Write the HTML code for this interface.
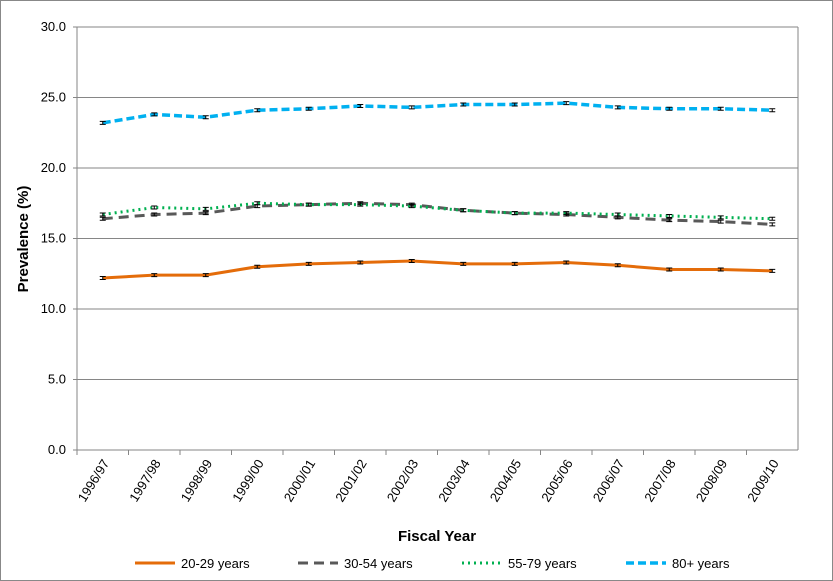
<!DOCTYPE html>
<html><head><meta charset="utf-8"><style>
body{margin:0;background:#fff;font-family:"Liberation Sans",Arial,sans-serif}
#wrap{position:relative;width:833px;height:581px;border:1px solid #888;box-sizing:border-box;overflow:hidden}
</style></head><body>
<div id="wrap">
<svg id="chart" width="833" height="581"></svg>
</div>
<script>
const categories=["1996/97","1997/98","1998/99","1999/00","2000/01","2001/02","2002/03","2003/04","2004/05","2005/06","2006/07","2007/08","2008/09","2009/10"];
const s2029=[12.2,12.4,12.4,13.0,13.2,13.3,13.4,13.2,13.2,13.3,13.1,12.8,12.8,12.7];
const s3054=[16.4,16.7,16.8,17.3,17.4,17.5,17.4,17.0,16.8,16.7,16.5,16.3,16.2,16.0];
const s5579=[16.7,17.2,17.1,17.5,17.4,17.4,17.3,17.0,16.8,16.8,16.7,16.6,16.5,16.4];
const s80=[23.2,23.8,23.6,24.1,24.2,24.4,24.3,24.5,24.5,24.6,24.3,24.2,24.2,24.1];
const yTicks=[0,5,10,15,20,25,30];
const seriesNames=["20-29 years","30-54 years","55-79 years","80+ years"];

const NS="http://www.w3.org/2000/svg";
const svg=document.getElementById('chart');
const L=76,R=797,T=26,B=449,yMax=30;
const step=(R-L)/categories.length;
const x=i=>L+step*(i+0.5);
const y=v=>B-(v/yMax)*(B-T);
function mk(tag,attrs,parent){const e=document.createElementNS(NS,tag);for(const k in attrs)e.setAttribute(k,attrs[k]);(parent||svg).appendChild(e);return e;}

yTicks.forEach(t=>{
  const g=mk('line',{x1:L-4,x2:R,y1:y(t),y2:y(t),stroke:'#868686','stroke-width':1});
  
  
  const tx=mk('text',{x:L-11,y:y(t)+4,'text-anchor':'end','font-size':13,fill:'#000'});
  tx.textContent=t.toFixed(1);
  
  
});
const ax=mk('line',{x1:L,x2:L,y1:T,y2:B,stroke:'#868686'});


const rb=mk('line',{x1:R,x2:R,y1:T,y2:B,stroke:'#868686'});


categories.forEach((c,i)=>{
  const tk=mk('line',{x1:L+step*i,x2:L+step*i,y1:B,y2:B+5,stroke:'#868686'});
  
  
  const tx=mk('text',{x:x(i)+7,y:B+13,'text-anchor':'end','font-size':13,transform:`rotate(-58 ${x(i)+7} ${B+13})`});
  tx.textContent=c;
  
  
});
const yt=mk('text',{x:27,y:238,'text-anchor':'middle','font-size':15,'font-weight':'bold',transform:'rotate(-90 27 238)'});
yt.textContent='Prevalence (%)';


const xt=mk('text',{x:436,y:540,'text-anchor':'middle','font-size':15,'font-weight':'bold'});
xt.textContent='Fiscal Year';



const styles=[
 {d:s2029,c:'#E46C0A',dash:'',w:3,n:'series-20-29'},
 {d:s3054,c:'#595959',dash:'10,6',w:3,n:'series-30-54'},
 {d:s5579,c:'#00B050',dash:'2,4',w:3,n:'series-55-79'},
 {d:s80,c:'#00B0F0',dash:'8,4',w:3.5,n:'series-80-plus'}];
styles.forEach(s=>{
  const p=mk('polyline',{points:s.d.map((v,i)=>x(i)+','+y(v)).join(' '),fill:'none',stroke:s.c,'stroke-width':s.w,'stroke-dasharray':s.dash});
  
  
  s.d.forEach((v,i)=>{
    const e=mk('path',{d:`M${x(i)-3},${y(v)-1.5}h6M${x(i)},${y(v)-1.5}v3M${x(i)-3},${y(v)+1.5}h6`,stroke:'#000','stroke-width':1});
    
    
  });
});
const lx=[134,297,461,625];
styles.forEach((s,i)=>{
  const g=mk('g',{});
  
  
  mk('line',{x1:lx[i],x2:lx[i]+40,y1:562,y2:562,stroke:s.c,'stroke-width':s.w,'stroke-dasharray':s.dash},g);
  const t=mk('text',{x:lx[i]+46,y:567,'font-size':13},g);
  t.textContent=seriesNames[i];
});
</script>
</body></html>
